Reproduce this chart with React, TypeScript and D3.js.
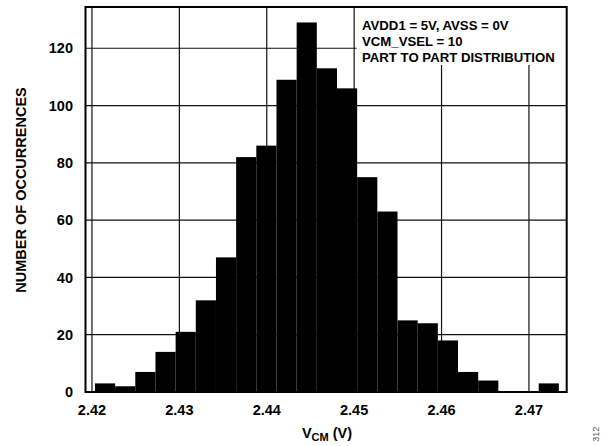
import React from "react";
import * as d3 from "d3";

const counts = [3, 2, 7, 14, 21, 32, 47, 82, 86, 109, 129, 113, 106, 75, 63, 25, 24, 18, 7, 4, 0, 0, 3];
const binStart = 2.42034;
const binWidth = 0.002308;
const xTicks = [2.42, 2.43, 2.44, 2.45, 2.46, 2.47];
const yTicks = [0, 20, 40, 60, 80, 100, 120];
const notes = ["AVDD1 = 5V, AVSS = 0V", "VCM_VSEL = 10", "PART TO PART DISTRIBUTION"];

const W = 608, H = 446;
const L = 85.5, R = 566.7, T = 7, B = 392;

export default function App() {
  const x = d3.scaleLinear().domain([2.41926, 2.47432]).range([L, R]);
  const y = d3.scaleLinear().domain([0, 134.4]).range([B, T]);
  const font = "'Liberation Sans', Arial, sans-serif";
  return (
    <svg width={W} height={H} style={{ position: "absolute", left: 0, top: 0, background: "#fff" }}
      fontFamily={font}>
      <rect x={0} y={0} width={W} height={H} fill="#fff" />
      {xTicks.map((t) => (
        <line key={"gx" + t} x1={x(t)} x2={x(t)} y1={T} y2={B} stroke="#111" strokeWidth={1.2} />
      ))}
      {yTicks.map((t) => (
        <line key={"gy" + t} x1={L} x2={R} y1={y(t)} y2={y(t)} stroke="#111" strokeWidth={1.2} />
      ))}
      {counts.map((c, i) => {
        const x0 = x(binStart + i * binWidth);
        const x1 = x(binStart + (i + 1) * binWidth);
        return c > 0 ? (
          <rect key={"b" + i} x={x0} width={x1 - x0} y={y(c)} height={y(0) - y(c)} fill="#000" />
        ) : null;
      })}
      <rect x={356.5} y={T} width={R - 356.5} height={58} fill="#fff" />
      {notes.map((n, i) => (
        <text key={"n" + i} x={362} y={29.5 + i * 16} fontSize={13.2} fontWeight="bold" fill="#000">{n}</text>
      ))}
      <rect x={L} y={T} width={R - L} height={B - T} fill="none" stroke="#000" strokeWidth={2} />
      {yTicks.map((t) => (
        <text key={"ty" + t} x={73} y={y(t)} dy="0.36em" textAnchor="end" fontSize={14.5} fontWeight="bold">{t}</text>
      ))}
      {xTicks.map((t) => (
        <text key={"tx" + t} x={x(t)} y={415} textAnchor="middle" fontSize={14.5} fontWeight="bold">{t.toFixed(2)}</text>
      ))}
      <text transform={`translate(26,190) rotate(-90)`} textAnchor="middle" fontSize={14.5} fontWeight="bold">
        NUMBER OF OCCURRENCES
      </text>
      <text x={327} y={438.3} textAnchor="middle" fontSize={14.5} fontWeight="bold">
        V<tspan fontSize={11} dy={3}>CM</tspan><tspan dy={-3}> (V)</tspan>
      </text>
      <text transform={`translate(598.5,441.7) rotate(-90)`} fontSize={9} fill="#555">312</text>
    </svg>
  );
}
